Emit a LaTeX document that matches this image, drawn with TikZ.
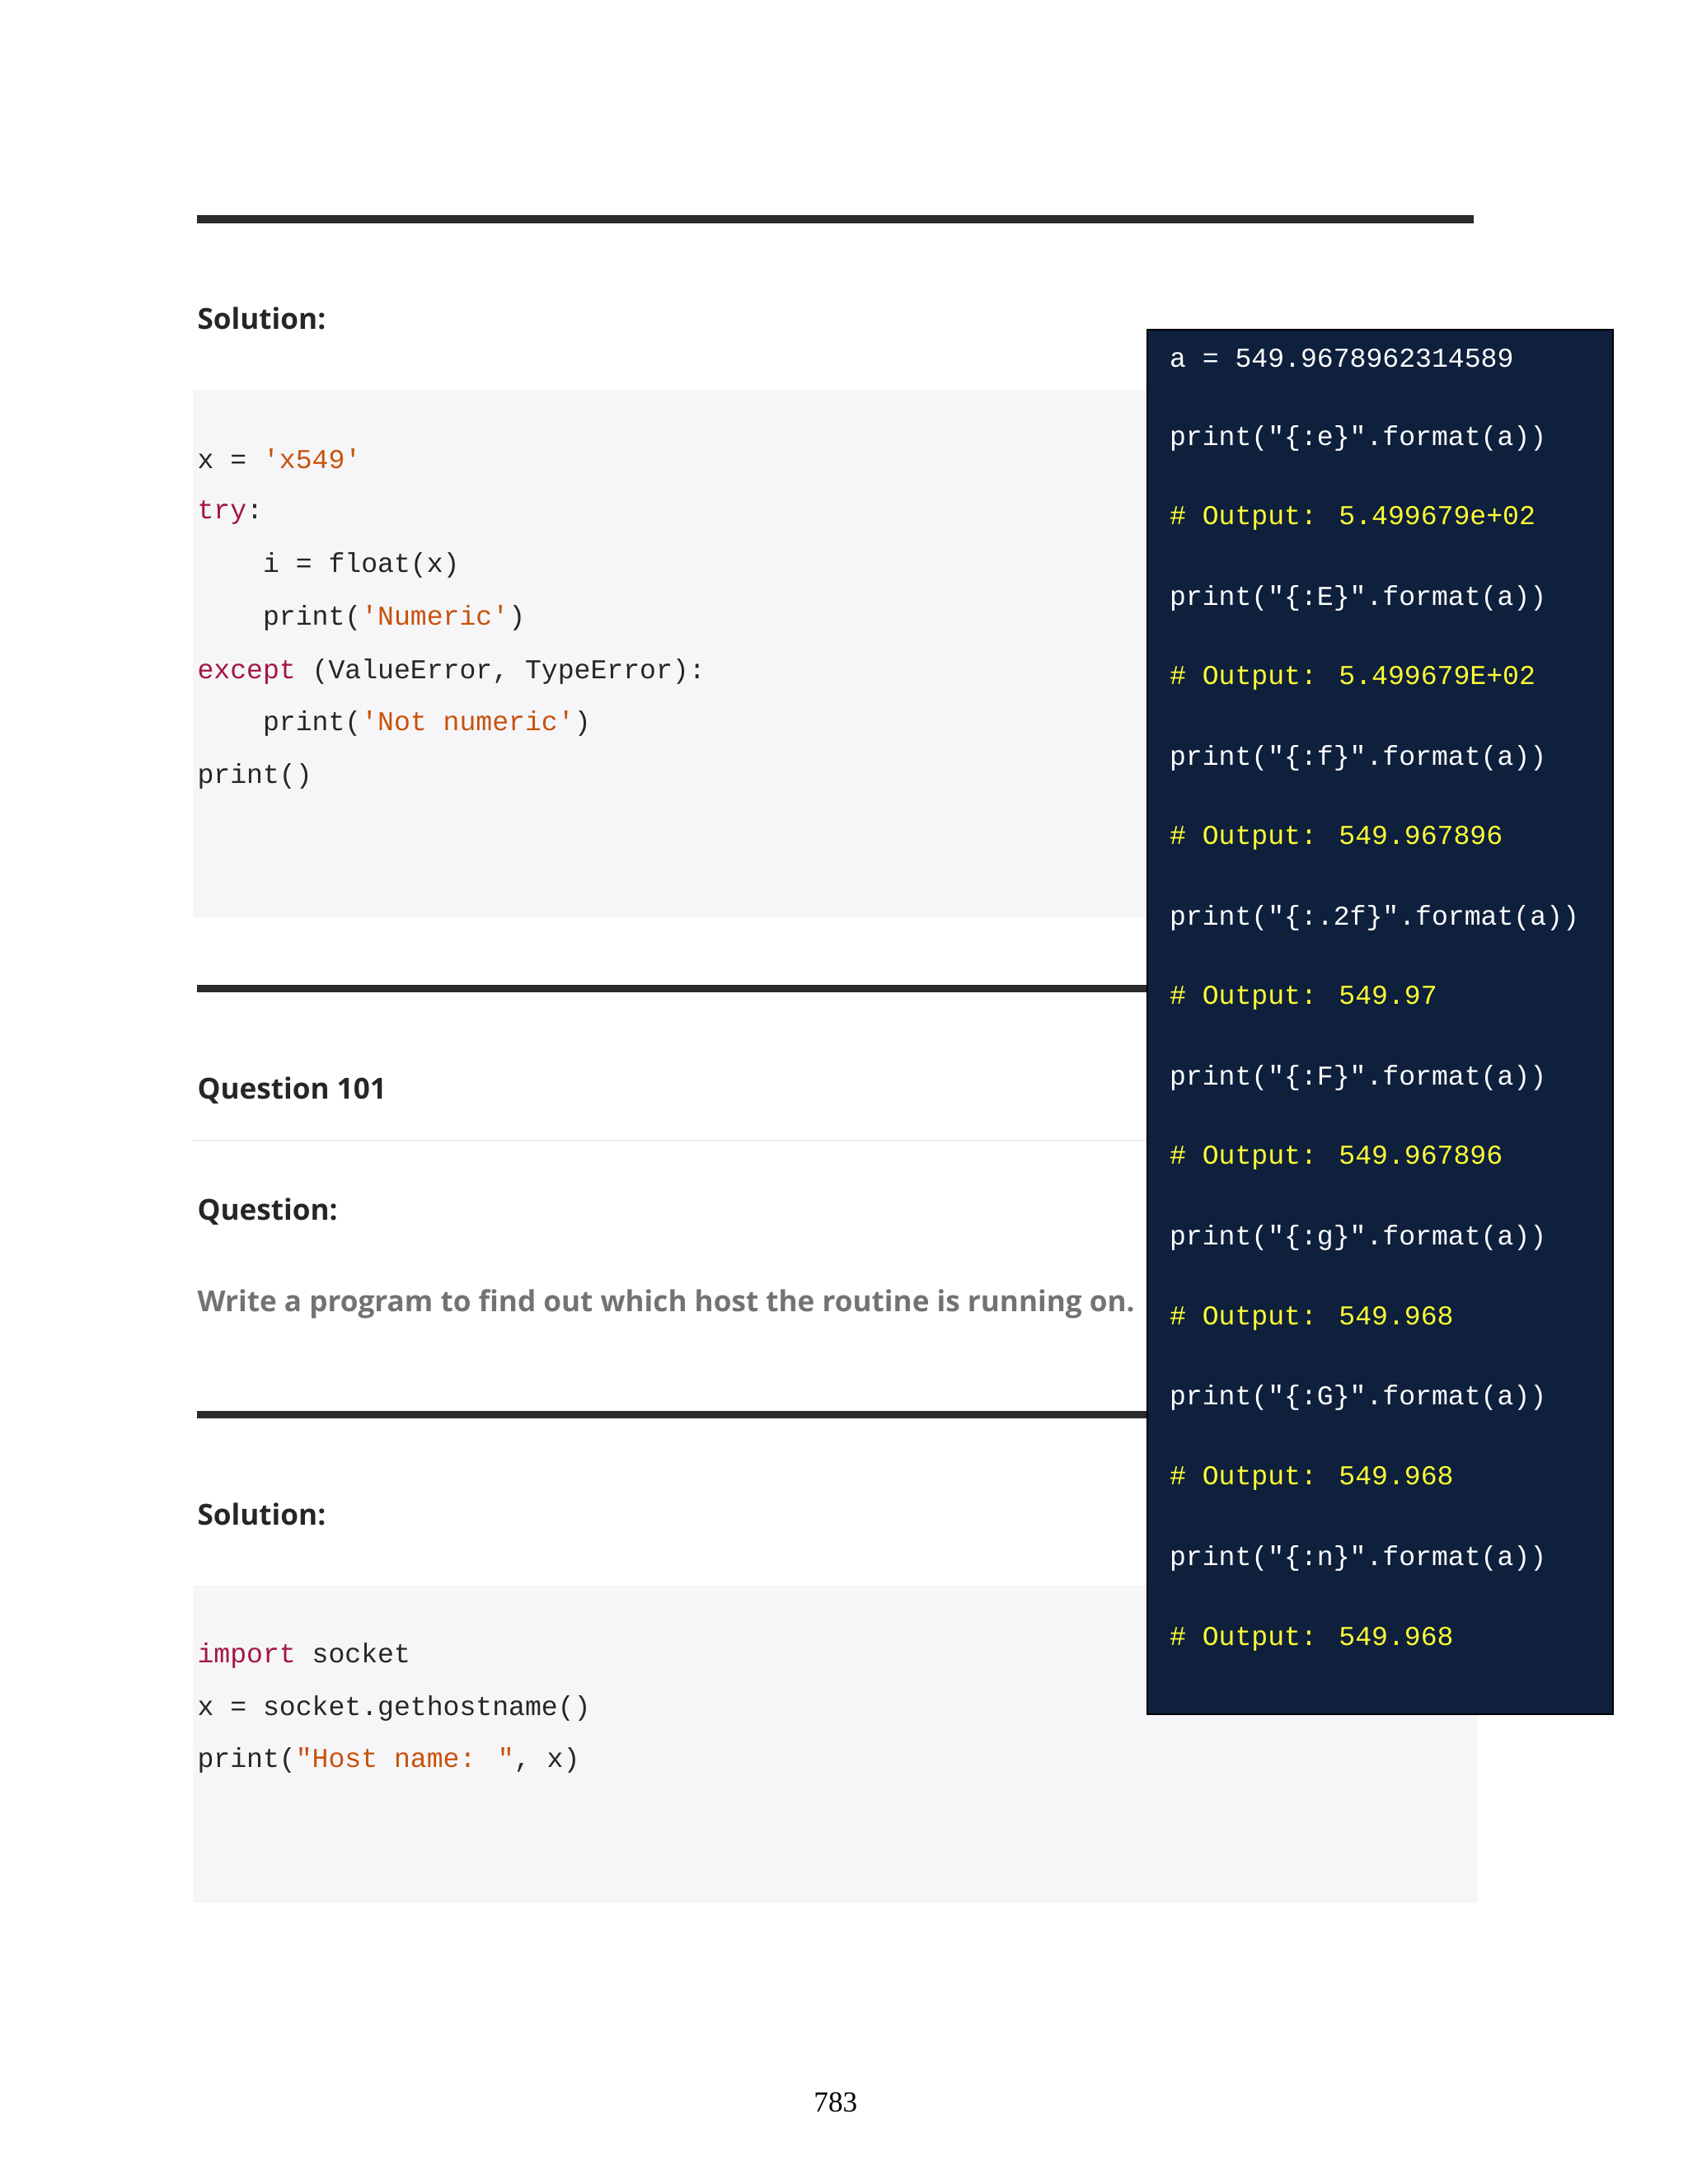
\documentclass[tikz,border=0pt]{standalone}
\usepackage{fontspec}
\setmainfont{Liberation Serif}
\newfontfamily\code{Liberation Mono}
\newfontfamily\hd{Open Sans}
\definecolor{kw}{HTML}{A31545}
\definecolor{st}{HTML}{C8520A}
\definecolor{bgc}{HTML}{F6F6F9}
\definecolor{dark}{HTML}{0F203D}
\definecolor{yel}{HTML}{FFFF33}
\definecolor{rul}{HTML}{2B2B2B}
\begin{document}
\begin{tikzpicture}[x=1pt,y=-1pt,
 cd/.style={anchor=west,inner sep=0pt,font=\code\fontsize{19.8}{22}\selectfont,text=black!85},
 dk/.style={cd,text=white},
 yl/.style={cd,text=yel},
 hdr/.style={anchor=west,inner sep=0pt,font=\hd\bfseries\fontsize{21}{24}\selectfont,text=black!85},
 rulestyle/.style={line width=5.5pt,draw=rul}]
\useasboundingbox (0,0) rectangle (1224,1584);
\draw[rulestyle] (143,159) -- (1069,159);
\node[hdr] (s1) at (143,231) {Solution:};
\fill[bgc] (140,283) rectangle (1072,665);
\node[cd] (c1) at (143,333) {x = \textcolor{st}{'x549'}};
\node[cd] (c2) at (143,372) {\textcolor{kw}{try}:};
\node[cd] (c3) at (143,410) {\ \ \ \ i = float(x)};
\node[cd] (c4) at (143,448) {\ \ \ \ print(\textcolor{st}{'Numeric'})};
\node[cd] (c5) at (143,487) {\textcolor{kw}{except} (ValueError, TypeError):};
\node[cd] (c6) at (143,525) {\ \ \ \ print(\textcolor{st}{'Not numeric'})};
\node[cd] (c7) at (143,563) {print()};
\draw[rulestyle] (143,717) -- (1069,717);
\node[hdr] (q1) at (143,791) {Question 101};
\draw[black!12,line width=1pt] (140,827) -- (1072,827);
\node[hdr] (q2) at (143,879) {Question:};
\node[hdr,text=black!55] (q3) at (143,946) {Write a program to find out which host the routine is running on.};
\draw[rulestyle] (143,1026) -- (1069,1026);
\node[hdr] (s2) at (143,1098) {Solution:};
\fill[bgc] (140,1150) rectangle (1072,1380);
\node[cd] (d1) at (143,1201) {\textcolor{kw}{import} socket};
\node[cd] (d2) at (143,1239) {x = socket.gethostname()};
\node[cd] (d3) at (143,1277) {print(\textcolor{st}{"Host name: "}, x)};
\filldraw[fill=dark,draw=black,line width=1.2pt] (832,239) rectangle (1170,1243);
\node[dk] at (848,260) {a = 549.9678962314589};
\node[dk] at (848,318) {print("\{:e\}".format(a))};
\node[yl] at (848,376) {\# Output: 5.499679e+02};
\node[dk] at (848,434) {print("\{:E\}".format(a))};
\node[yl] at (848,492) {\# Output: 5.499679E+02};
\node[dk] at (848,550) {print("\{:f\}".format(a))};
\node[yl] at (848,608) {\# Output: 549.967896};
\node[dk] at (848,666) {print("\{:.2f\}".format(a))};
\node[yl] at (848,724) {\# Output: 549.97};
\node[dk] at (848,782) {print("\{:F\}".format(a))};
\node[yl] at (848,840) {\# Output: 549.967896};
\node[dk] at (848,898) {print("\{:g\}".format(a))};
\node[yl] at (848,956) {\# Output: 549.968};
\node[dk] at (848,1014) {print("\{:G\}".format(a))};
\node[yl] at (848,1072) {\# Output: 549.968};
\node[dk] at (848,1130) {print("\{:n\}".format(a))};
\node[yl] at (848,1189) {\# Output: 549.968};
\node[font=\fontsize{21}{24}\selectfont] (pg) at (606,1525) {783};
\end{tikzpicture}
\end{document}
